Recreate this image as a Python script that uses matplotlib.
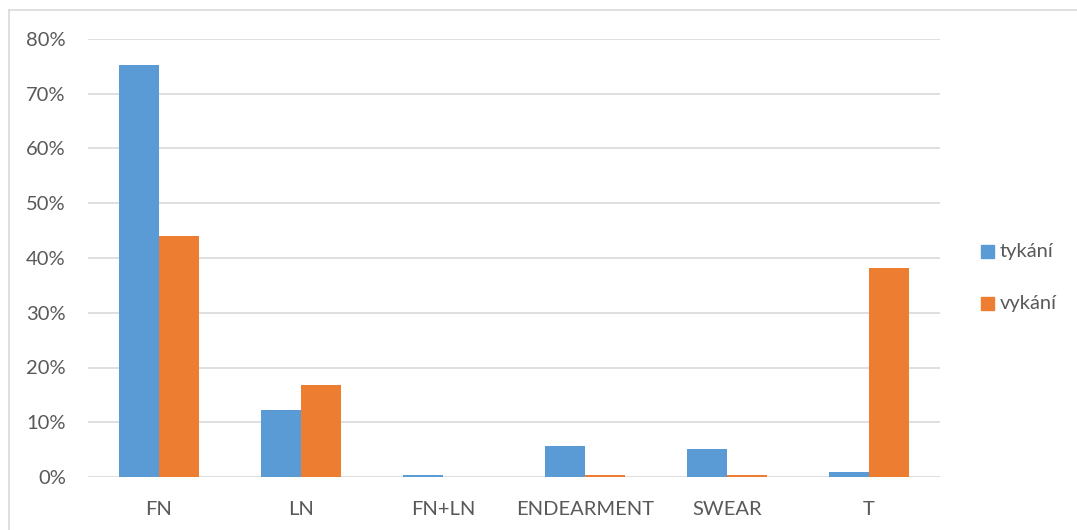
import matplotlib
matplotlib.use("Agg")
import matplotlib.pyplot as plt
import numpy as np
from matplotlib.ticker import FuncFormatter
from matplotlib.lines import Line2D
from matplotlib.patches import Rectangle

categories = ["FN", "LN", "FN+LN", "ENDEARMENT", "SWEAR", "T"]
tykani = [75.3, 12.2, 0.45, 5.65, 5.05, 0.9]
vykani = [44.1, 16.8, 0.0, 0.4, 0.4, 38.2]
series_names = ["tykání", "vykání"]
yticks = [0, 10, 20, 30, 40, 50, 60, 70, 80]

plt.rcParams['font.family'] = ['Lato', 'DejaVu Sans']
W, H = 1077, 530
fig = plt.figure(figsize=(W/100, H/100), dpi=100)
ax = fig.add_axes([88/W, 1-477/H, (940-88)/W, (477-39)/H])

x = np.arange(len(categories))
bw = 0.285
blue = "#5B9BD5"
orange = "#ED7D31"
ax.bar(x - bw/2, tykani, bw, color=blue, zorder=3)
ax.bar(x + bw/2, vykani, bw, color=orange, zorder=3)

ax.set_xlim(-0.5, len(categories) - 0.5)
ax.set_ylim(0, 80)
ax.set_yticks(yticks)
ax.yaxis.set_major_formatter(FuncFormatter(lambda v, p: f"{int(v)}%"))
ax.set_xticks(x)
ax.set_xticklabels(categories)
ax.grid(axis='y', color="#D9D9D9", linewidth=1.2, zorder=0)
for s in ax.spines.values():
    s.set_visible(False)
ax.tick_params(axis='both', length=0, labelsize=14.5, labelcolor="#595959")
ax.tick_params(axis='y', pad=16)
ax.tick_params(axis='x', pad=17)

# legend
for i, (name, col) in enumerate(zip(series_names, [blue, orange])):
    yc = 251 + i * 52
    fig.patches.append(Rectangle((981/W, 1-(yc+6.5)/H), 13/W, 13/H,
                                 transform=fig.transFigure, color=col))
    fig.text(1000/W, 1-yc/H, name, fontsize=14.5, color="#595959", va='center', ha='left')

# outer border
fig.lines.append(Line2D([8.5/W, 8.5/W], [0, 1-10/H], transform=fig.transFigure, color="#D9D9D9", lw=1.2))
fig.lines.append(Line2D([8.5/W, 1], [1-10/H, 1-10/H], transform=fig.transFigure, color="#D9D9D9", lw=1.2))

fig.savefig("out.png", dpi=100)
